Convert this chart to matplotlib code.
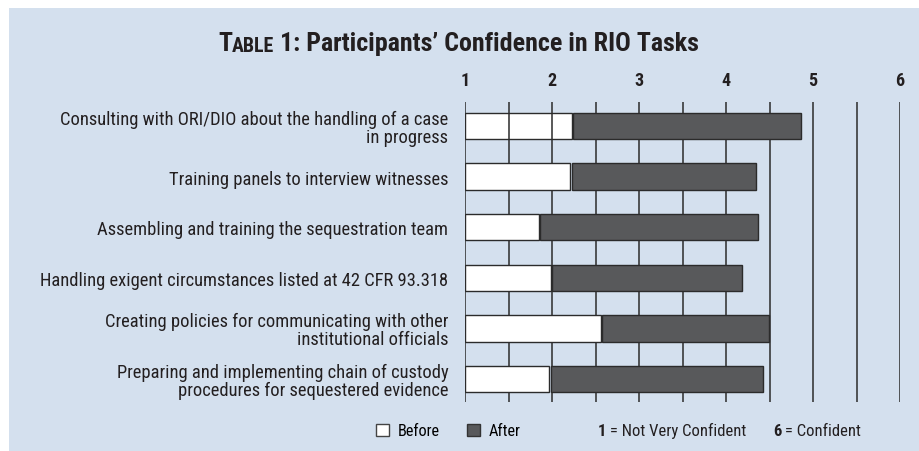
import matplotlib
matplotlib.use('Agg')
import numpy as np
import matplotlib.pyplot as plt
from matplotlib.patches import Patch, Rectangle
from matplotlib import font_manager

# datos
tareas = [
    'Consulting with ORI/DIO about the handling of a case\nin progress',
    'Training panels to interview witnesses',
    'Assembling and training the sequestration team',
    'Handling exigent circumstances listed at 42 CFR 93.318',
    'Creating policies for communicating with other\ninstitutional officials',
    'Preparing and implementing chain of custody\nprocedures for sequestered evidence',
]
antes = [2.23, 2.21, 1.85, 1.99, 2.56, 1.97]
despues = [4.85, 4.33, 4.35, 4.17, 4.48, 4.41]
escala = [1, 2, 3, 4, 5, 6]

fondo = '#d4e0ee'
oscuro = '#58595b'
borde = '#2b2b2b'
texto = '#231f20'
instaladas = {f.name for f in font_manager.fontManager.ttflist}
fuente = [f for f in ['Roboto Condensed', 'Liberation Sans Narrow', 'Roboto'] if f in instaladas]
fuente.append('DejaVu Sans')
plt.rcParams['font.family'] = fuente

W, H = 919, 452
fig = plt.figure(figsize=(W / 100, H / 100), dpi=100)
fig.patch.set_facecolor('white')
fig.patches.append(Rectangle((9 / W, 0), 1 - 9 / W, 1 - 9 / H, transform=fig.transFigure,
                             facecolor=fondo, edgecolor='none', zorder=-5))

ax = fig.add_axes([465 / W, 1 - 403 / H, 435 / W, 300 / H])
ax.set_facecolor('none')
y = np.arange(len(tareas))

# lineas de la cuadricula cada 0.5
for xv in np.arange(1, 6.01, 0.5):
    ax.axvline(xv, color='#2b2b2b', lw=1.1, zorder=2)

b1 = ax.barh(y, np.array(antes) - 1, left=1, height=0.52, color='white',
             edgecolor=borde, lw=1, zorder=3)
b1[0].set_zorder(1)
ax.barh(y, np.array(despues) - np.array(antes), left=np.array(antes) + 0.015, height=0.52,
        color=oscuro, edgecolor=borde, lw=1, zorder=3)

ax.set_xlim(1, 6)
ax.set_ylim(5.455, -0.475)
ax.set_xticks(escala)
ax.xaxis.tick_top()
ax.tick_params(axis='x', length=0, pad=9)
for t in ax.get_xticklabels():
    t.set_fontweight('bold')
    t.set_fontsize(13)
    t.set_color(texto)
ax.set_yticks(y)
ax.set_yticklabels(tareas, fontsize=13.3, color=texto, linespacing=1.0)
ax.tick_params(axis='y', length=0, pad=12)
for s in ax.spines.values():
    s.set_visible(False)

# titulo con versalitas
t0 = fig.text(218 / W, 1 - 51 / H, 'T', fontsize=18.7, fontweight='bold', color=texto,
              va='baseline')
t1 = ax.annotate('ABLE', xy=(1, 0), xycoords=t0, fontsize=14.3, fontweight='bold',
                 color=texto, va='bottom', annotation_clip=False)
ax.annotate(' 1: Participants\u2019 Confidence in RIO Tasks', xy=(1, 0), xycoords=t1,
            fontsize=18.7, fontweight='bold', color=texto, va='bottom', annotation_clip=False)

# leyenda
manejadores = [Patch(facecolor='white', edgecolor='#444444', label='Before'),
               Patch(facecolor=oscuro, edgecolor='#333333', label='After')]
fig.legend(handles=manejadores, loc='center left', bbox_to_anchor=(376 / W, 1 - 432 / H),
           ncol=2, frameon=False, fontsize=11.7, handlelength=0.8, handleheight=0.8,
           handletextpad=0.55, columnspacing=1.65, borderpad=0, borderaxespad=0)

n1 = fig.text(598 / W, 1 - 432 / H, '1', fontsize=12, fontweight='bold', va='center',
              color=texto)
ax.annotate(' = Not Very Confident', xy=(1, 0), xycoords=n1, fontsize=12, va='bottom',
            color=texto, annotation_clip=False)
n6 = fig.text(773 / W, 1 - 432 / H, '6', fontsize=12, fontweight='bold', va='center',
              color=texto)
ax.annotate(' = Confident', xy=(1, 0), xycoords=n6, fontsize=12, va='bottom',
            color=texto, annotation_clip=False)

fig.savefig('out.png', dpi=100, facecolor=fig.get_facecolor())
